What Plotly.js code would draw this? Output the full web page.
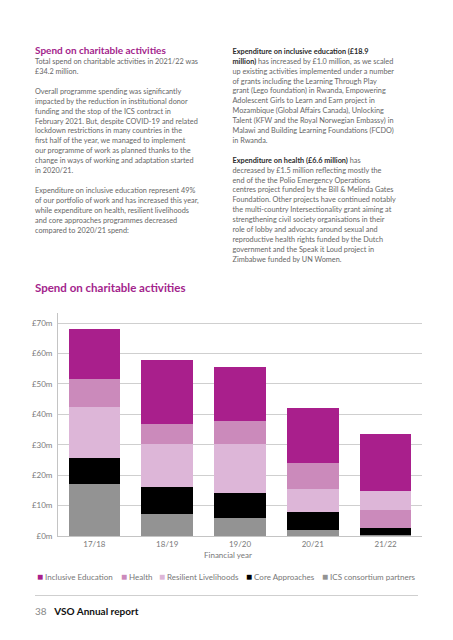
<!DOCTYPE html>
<html>
<head>
<meta charset="utf-8">
<script src="https://cdn.plot.ly/plotly-3.0.1.min.js"></script>
<style>
  html, body { margin:0; padding:0; background:#fff; }
  #page { position:relative; width:453px; height:640px; overflow:hidden; font-family: Lato, "Open Sans", sans-serif; }
  #chart { position:absolute; left:0; top:0; width:453px; height:640px; }
  .txt { position:absolute; white-space:nowrap; color:#666; font-size:7.3px; line-height:9.9px; }
  .ttl { position:absolute; white-space:nowrap; color:#a3248c; font-weight:bold; font-size:10px; }
  .txt b { color:#2a2a2a; }
</style>
</head>
<body>
<div id="page">
  <div id="chart"></div>
  <div class="ttl" style="left:35px; top:44.2px;">Spend on charitable activities</div>
  <div class="txt" style="left:35px; top:57.1px;">Total spend on charitable activities in 2021/22 was<br>£34.2 million.<br><br>Overall programme spending was significantly<br>impacted by the reduction in institutional donor<br>funding and the stop of the ICS contract in<br>February 2021. But, despite COVID-19 and related<br>lockdown restrictions in many countries in the<br>first half of the year, we managed to implement<br>our programme of work as planned thanks to the<br>change in ways of working and adaptation started<br>in 2020/21.<br><br>Expenditure on inclusive education represent 49%<br>of our portfolio of work and has increased this year,<br>while expenditure on health, resilient livelihoods<br>and core approaches programmes decreased<br>compared to 2020/21 spend:</div>
  <div class="txt" style="left:232.5px; top:46.8px;"><b>Expenditure on inclusive education (£18.9<br>million)</b> has increased by £1.0 million, as we scaled<br>up existing activities implemented under a number<br>of grants including the Learning Through Play<br>grant (Lego foundation) in Rwanda, Empowering<br>Adolescent Girls to Learn and Earn project in<br>Mozambique (Global Affairs Canada), Unlocking<br>Talent (KFW and the Royal Norwegian Embassy) in<br>Malawi and Building Learning Foundations (FCDO)<br>in Rwanda.<br><br><b>Expenditure on health (£6.6 million)</b> has<br>decreased by £1.5 million reflecting mostly the<br>end of the the Polio Emergency Operations<br>centres project funded by the Bill &amp; Melinda Gates<br>Foundation. Other projects have continued notably<br>the multi-country Intersectionality grant aiming at<br>strengthening civil society organisations in their<br>role of lobby and advocacy around sexual and<br>reproductive health rights funded by the Dutch<br>government and the Speak it Loud project in<br>Zimbabwe funded by UN Women.</div>
  <div style="position:absolute; left:35px; top:595px; width:383px; height:0; border-top:1px solid #cfcfcf;"></div>
  <div style="position:absolute; left:35px; top:605px; white-space:nowrap; font-size:10px; color:#888;">38&nbsp;&nbsp;&nbsp;<span style="color:#111; font-weight:bold;">VSO Annual report</span></div>
</div>
<script>
// ---- data (£ millions) ----
const years = ['17/18', '18/19', '19/20', '20/21', '21/22'];
const icsPartners = [17.0, 7.1, 5.8, 1.9, 0.2];
const coreApproaches = [8.8, 8.9, 8.2, 5.9, 2.4];
const resilientLivelihoods = [16.5, 14.1, 16.4, 7.6, 6.3];
const health = [9.2, 6.6, 7.3, 8.5, 5.9];
const inclusiveEducation = [16.7, 21.0, 17.7, 18.1, 18.7];
// in 21/22 the Health block is stacked below Resilient Livelihoods
const healthBelowLivelihoods = [false, false, false, false, true];
const yTickValues = [0, 10, 20, 30, 40, 50, 60, 70];
const yTickLabels = ['£0m', '£10m', '£20m', '£30m', '£40m', '£50m', '£60m', '£70m'];
const seriesNames = ['Inclusive Education', 'Health', 'Resilient Livelihoods', 'Core Approaches', 'ICS consortium partners'];

// ---- styles ----
const colors = {
  'Inclusive Education': '#a91f8c',
  'Health': '#cb8abb',
  'Resilient Livelihoods': '#ddb6d8',
  'Core Approaches': '#000000',
  'ICS consortium partners': '#939393'
};
const FONT = 'Lato, "Open Sans", sans-serif';

function bar(name, y, extra) {
  return Object.assign({
    type: 'bar', name: name, x: years, y: y,
    marker: { color: colors[name], line: { width: 0 } },
    showlegend: false, hoverinfo: 'x+y+name'
  }, extra || {});
}
const healthLow = health.map((v, i) => healthBelowLivelihoods[i] ? v : null);
const healthHigh = health.map((v, i) => healthBelowLivelihoods[i] ? null : v);

const traces = [
  bar('ICS consortium partners', icsPartners),
  bar('Core Approaches', coreApproaches),
  bar('Health', healthLow),
  bar('Resilient Livelihoods', resilientLivelihoods),
  bar('Health', healthHigh),
  bar('Inclusive Education', inclusiveEducation)
];

// plot-area geometry helpers (page pixels -> paper)
const L = 58, R = 31, T = 313, B = 104, W = 453, H = 640;
const pw = W - L - R, ph = H - T - B;
const px = X => (X - L) / pw;
const py = Y => (H - B - Y) / ph;

const legendX = [35, 119, 157, 244, 320];
const annotations = seriesNames.map((n, i) => ({
  xref: 'paper', yref: 'paper', x: px(legendX[i]), y: py(576),
  xanchor: 'left', yanchor: 'middle', showarrow: false,
  text: '<span style="fill:' + colors[n] + ';font-size:10px">■</span> ' + n,
  font: { family: FONT, size: 8, color: '#777' }
}));
annotations.push({
  xref: 'paper', yref: 'paper', x: px(228), y: py(555),
  xanchor: 'center', yanchor: 'middle', showarrow: false,
  text: 'Financial year', font: { family: FONT, size: 8, color: '#777' }
});

const layout = {
  width: W, height: H,
  margin: { l: L, r: R, t: T, b: B, pad: 0 },
  paper_bgcolor: 'rgba(0,0,0,0)', plot_bgcolor: 'rgba(0,0,0,0)',
  barmode: 'stack', bargap: 0.29,
  showlegend: false,
  title: {
    text: '<b>Spend on charitable activities</b>',
    x: 35 / W, xanchor: 'left', xref: 'container',
    y: 1 - 288 / H, yanchor: 'middle', yref: 'container',
    font: { family: FONT, size: 11.5, color: '#a3248c' }
  },
  xaxis: {
    type: 'category', range: [-0.5, 4.5], fixedrange: true,
    showline: true, linecolor: '#c4c4c4', linewidth: 1.2,
    ticks: '', showgrid: false, zeroline: false,
    tickfont: { family: FONT, size: 8, color: '#7a7a7a' }
  },
  yaxis: {
    range: [0, 73.3], fixedrange: true,
    tickvals: yTickValues, ticktext: yTickLabels,
    showline: true, linecolor: '#c4c4c4', linewidth: 1,
    gridcolor: '#cfcfcf', gridwidth: 1, zeroline: false,
    ticks: '', ticklabelstandoff: 3,
    tickfont: { family: FONT, size: 8, color: '#7a7a7a' }
  },
  annotations: annotations,
  font: { family: FONT }
};

Plotly.newPlot('chart', traces, layout, { displayModeBar: false, staticPlot: true });
</script>
</body>
</html>
